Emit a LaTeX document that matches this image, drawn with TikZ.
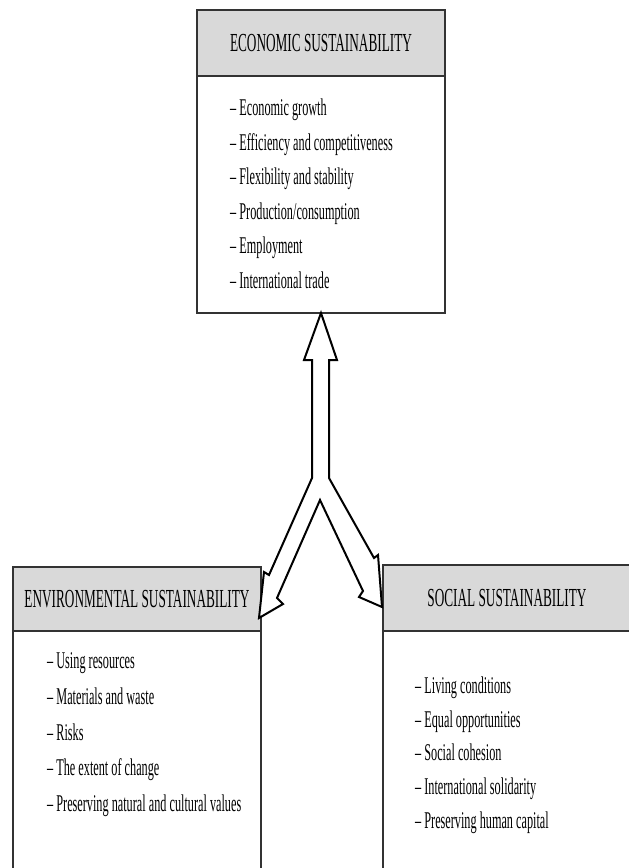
\documentclass[tikz,border=0pt]{standalone}
\usepackage{fontspec}
\newfontfamily\narrowserif[FakeStretch=0.51]{Liberation Serif}
\usetikzlibrary{positioning}

\begin{document}
\begin{tikzpicture}[x=1pt, y=-1pt,
	headBox/.style={rectangle, fill=black!15, draw=black!80, line width=1.3pt, minimum width=248pt, inner sep=0pt, outer sep=0pt, font=\narrowserif\fontsize{26}{30}\selectfont},
	bodyBox/.style={rectangle, fill=white, draw=black!80, line width=1.3pt, minimum width=248pt, inner sep=0pt, outer sep=0pt},
	itemList/.style={anchor=north west, align=left, inner sep=0pt}]
	\useasboundingbox (0,0) rectangle (629,868);

	% the three boxes
	\node[headBox, minimum height=66pt](econHead) at (321,43){ECONOMIC SUSTAINABILITY};
	\node[bodyBox, minimum height=237pt, below=0pt of econHead](econBox){};
	\node[headBox, minimum height=64pt](envHead) at (137,599){ENVIRONMENTAL SUSTAINABILITY};
	\node[bodyBox, minimum height=259pt, below=0pt of envHead](envBox){};
	\node[headBox, minimum height=66pt](socHead) at (507,598){SOCIAL SUSTAINABILITY};
	\node[bodyBox, minimum height=259pt, below=0pt of socHead](socBox){};

	% the lists
	\node[itemList, font=\narrowserif\fontsize{24}{34.6}\selectfont](econList) at (230,98.6){%
		– Economic growth\\
		– Efficiency and competitiveness\\
		– Flexibility and stability\\
		– Production/consumption\\
		– Employment\\
		– International trade};
	\node[itemList, font=\narrowserif\fontsize{24}{35.75}\selectfont](envList) at (47,652.6){%
		– Using resources\\
		– Materials and waste\\
		– Risks\\
		– The extent of change\\
		– Preserving natural and cultural values};
	\node[itemList, font=\narrowserif\fontsize{24}{33.75}\selectfont](socList) at (415,676.6){%
		– Living conditions\\
		– Equal opportunities\\
		– Social cohesion\\
		– International solidarity\\
		– Preserving human capital};

	% the forked block arrow
	\draw[fill=white, line width=2pt, line join=miter] (econBox.south)
		-- (337,360) -- (329,360) -- (329,478)
		-- (374,558) -- (378,555) -- (382,607) -- (359,597) -- (363,591)
		-- (320,500)
		-- (277,598) -- (283,604) -- (259,618) -- (264,572) -- (269,575)
		-- (312,478) -- (312,360) -- (304,360) -- cycle;
\end{tikzpicture}
\end{document}
